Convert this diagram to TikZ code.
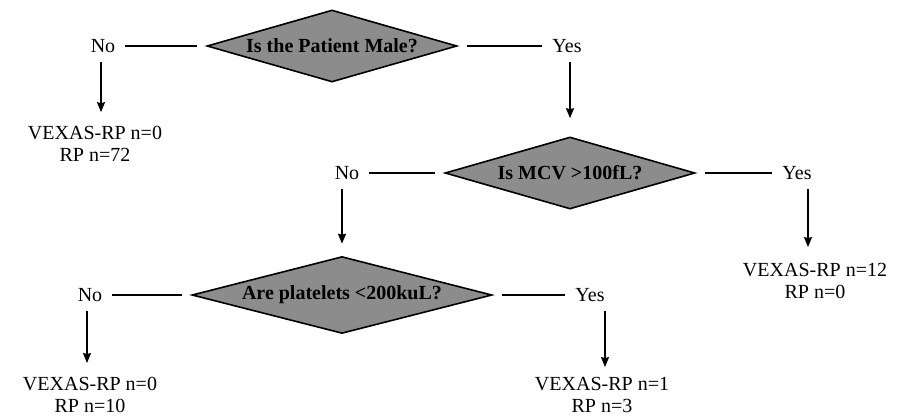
\documentclass[tikz,border=0pt]{standalone}
\usepackage{fontspec}
\setmainfont{Liberation Serif}
\usetikzlibrary{shapes.geometric, arrows.meta}
\definecolor{decgray}{RGB}{140,140,140}
\begin{document}
\begin{tikzpicture}[
    x=1pt, y=-1pt,
    decision/.style={diamond, draw, fill=decgray, line width=1.6pt, aspect=3.4,
                inner sep=0pt, minimum width=#1, minimum height=72pt,
                font=\bfseries\fontsize{20}{22}\selectfont},
    answer/.style={inner sep=0pt, font=\fontsize{20}{22}\selectfont},
    outcome/.style={inner sep=0pt, align=center, font=\fontsize{20}{22}\selectfont},
    link/.style={line width=1.6pt, shorten <=9pt, shorten >=10pt},
    flow/.style={-{Stealth[length=10pt, width=8pt, inset=1pt]}, line width=1.6pt},
  ]
    \useasboundingbox (0,0) rectangle (907,416);

    % Decisions
    \node[decision=250pt] (male)  at (332, 46)  {Is the Patient Male?};
    \node[decision=250pt] (mcv)   at (570, 173) {Is MCV >100fL?};
    \node[decision=300pt, minimum height=76pt] (plt) at (342, 295) {Are platelets <200kuL?};

    % Answers
    \node[answer] (no1)  at (103, 46)  {No};
    \node[answer] (yes1) at (567, 46)  {Yes};
    \node[answer] (no2)  at (347, 173) {No};
    \node[answer] (yes2) at (797, 173) {Yes};
    \node[answer] (no3)  at (90, 295)  {No};
    \node[answer] (yes3) at (590, 295) {Yes};

    % Outcomes
    \node[outcome] (out1) at (95, 144)  {VEXAS-RP n=0\\RP n=72};
    \node[outcome] (out2) at (815, 281) {VEXAS-RP n=12\\RP n=0};
    \node[outcome] (out3) at (90, 395)  {VEXAS-RP n=0\\RP n=10};
    \node[outcome] (out4) at (602, 395) {VEXAS-RP n=1\\RP n=3};

    % Branches
    \draw[link] (male.west) -- (no1.east);
    \draw[link] (male.east) -- (yes1.west);
    \draw[link] (mcv.west)  -- (no2.east);
    \draw[link] (mcv.east)  -- (yes2.west);
    \draw[link] (plt.west)  -- (no3.east);
    \draw[link] (plt.east)  -- (yes3.west);

    % Arrows down
    \draw[flow, shorten <=9pt, shorten >=14pt] ([xshift=-2pt]no1.south) -- ([xshift=-2pt]no1.south |- out1.north);
    \draw[flow, shorten <=9pt, shorten >=18pt] ([xshift=3pt]yes1.south) -- ([xshift=3pt]yes1.south |- mcv.north);
    \draw[flow, shorten <=9pt, shorten >=12pt] ([xshift=-5pt]no2.south) -- ([xshift=-5pt]no2.south |- plt.north);
    \draw[flow, shorten <=9pt, shorten >=16pt] ([xshift=11pt]yes2.south) -- ([xshift=11pt]yes2.south |- out2.north);
    \draw[flow, shorten <=9pt, shorten >=14pt] ([xshift=-3pt]no3.south) -- ([xshift=-3pt]no3.south |- out3.north);
    \draw[flow, shorten <=9pt, shorten >=10pt] ([xshift=15pt]yes3.south) -- ([xshift=15pt]yes3.south |- out4.north);
  \end{tikzpicture}
\end{document}
